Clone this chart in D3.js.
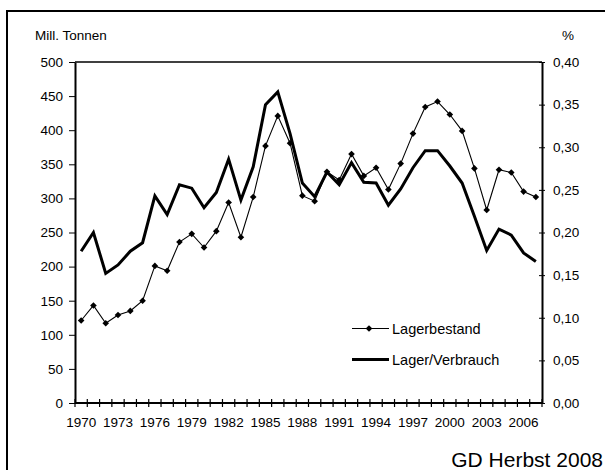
<!DOCTYPE html>
<html><head><meta charset="utf-8">
<script src="https://cdn.jsdelivr.net/npm/d3@7/dist/d3.min.js"></script>
<style>body{margin:0;background:#fff}svg{display:block}text{font-family:Arial,"Liberation Sans",sans-serif;fill:#000}</style>
</head><body><svg id="c" width="605" height="470"></svg>
<script>
const years = d3.range(1970, 2008);
const lagerbestand = [121,143,117,129,135,150,201,194,236,248,228,252,294,243,302,377,421,381,304,296,339,327,365,333,345,313,351,395,434,442,423,399,344,283,342,338,310,302];
const lagerVerbrauch = [0.178,0.200,0.152,0.162,0.178,0.188,0.243,0.221,0.256,0.252,0.229,0.247,0.286,0.238,0.277,0.350,0.365,0.316,0.258,0.242,0.271,0.256,0.282,0.259,0.258,0.232,0.251,0.276,0.296,0.296,0.278,0.258,0.219,0.179,0.204,0.197,0.176,0.166];
const leftTicks = d3.range(0, 501, 50);
const rightTicks = [0,0.05,0.10,0.15,0.20,0.25,0.30,0.35,0.40];
const yearLabels = years.filter((y,i)=>i%3===0);
const seriesNames = ["Lagerbestand","Lager/Verbrauch"];

const svg = d3.select("#c");
const L=75, R=542, T=62, B=403;
const x = d3.scaleBand().domain(years).range([L,R]).padding(0);
const yL = d3.scaleLinear().domain([0,500]).range([B,T]);
const yR = d3.scaleLinear().domain([0,0.4]).range([B,T]);

// outer frame
svg.append("rect").attr("x",7).attr("y",11).attr("width",620).attr("height",480)
  .attr("fill","none").attr("stroke","#000").attr("stroke-width",2);

// plot top border
svg.append("line").attr("x1",L).attr("x2",R).attr("y1",T).attr("y2",T).attr("stroke","#000").attr("stroke-width",1.5);

// left axis
const gl = svg.append("g").attr("transform",`translate(${L},0)`)
  .call(d3.axisLeft(yL).tickValues(leftTicks).tickSize(6).tickPadding(6).tickSizeOuter(0));
gl.select(".domain").attr("stroke-width",2);
gl.selectAll("text").style("font-size","13.5px");

// right axis
const gr = svg.append("g").attr("transform",`translate(${R},0)`)
  .call(d3.axisRight(yR).tickValues(rightTicks).tickSize(3).tickPadding(8).tickSizeOuter(0)
    .tickFormat(d=>d3.format(".2f")(d).replace(".",",")));
gr.select(".domain").attr("stroke-width",2);
gr.selectAll(".tick line").attr("x1",-3);
gr.selectAll("text").style("font-size","13.5px");

// bottom axis: labels
const gb = svg.append("g").attr("transform",`translate(0,${B})`)
  .call(d3.axisBottom(x).tickValues(yearLabels).tickSize(0).tickPadding(14).tickSizeOuter(0));
gb.select(".domain").remove();
gb.selectAll("text").style("font-size","13.5px");
// bottom axis line & boundary ticks
svg.append("line").attr("x1",L).attr("x2",R).attr("y1",B).attr("y2",B).attr("stroke","#000").attr("stroke-width",2);
svg.append("g").selectAll("line").data(years.concat([null])).join("line")
  .attr("x1",(d,i)=>i<years.length? x(d) : x(years[years.length-1])+x.bandwidth())
  .attr("x2",(d,i)=>i<years.length? x(d) : x(years[years.length-1])+x.bandwidth())
  .attr("y1",B-4).attr("y2",B+4).attr("stroke","#000").attr("stroke-width",1.2);

// titles
svg.append("text").attr("x",35).attr("y",40).style("font-size","13.5px").text("Mill. Tonnen");
svg.append("text").attr("x",562).attr("y",40).style("font-size","13.5px").text("%");
svg.append("text").attr("x",603).attr("y",467).attr("text-anchor","end").style("font-size","21px").text("GD Herbst 2008");

const cx = d=>x(d)+x.bandwidth()/2;

// thick ratio line
svg.append("path").datum(lagerVerbrauch)
  .attr("d", d3.line().x((d,i)=>cx(years[i])).y(d=>yR(d)))
  .attr("fill","none").attr("stroke","#000").attr("stroke-width",3).attr("stroke-linejoin","miter");

// thin line with markers
svg.append("path").datum(lagerbestand)
  .attr("d", d3.line().x((d,i)=>cx(years[i])).y(d=>yL(d)))
  .attr("fill","none").attr("stroke","#000").attr("stroke-width",1.1);
const diamond = d3.symbol().type(d3.symbolDiamond2).size(28);
svg.append("g").selectAll("path").data(lagerbestand).join("path")
  .attr("transform",(d,i)=>`translate(${cx(years[i])},${yL(d)})`)
  .attr("d",diamond).attr("fill","#000");

// legend
const lg = svg.append("g");
lg.append("line").attr("x1",352).attr("x2",389).attr("y1",328.5).attr("y2",328.5).attr("stroke","#000").attr("stroke-width",1.1);
lg.append("path").attr("transform","translate(369,328.5)").attr("d",diamond).attr("fill","#000");
lg.append("text").attr("x",392).attr("y",333.5).style("font-size","14.5px").text(seriesNames[0]);
lg.append("line").attr("x1",352).attr("x2",389).attr("y1",359.5).attr("y2",359.5).attr("stroke","#000").attr("stroke-width",3);
lg.append("text").attr("x",392).attr("y",364.5).style("font-size","14.5px").text(seriesNames[1]);
</script></body></html>
